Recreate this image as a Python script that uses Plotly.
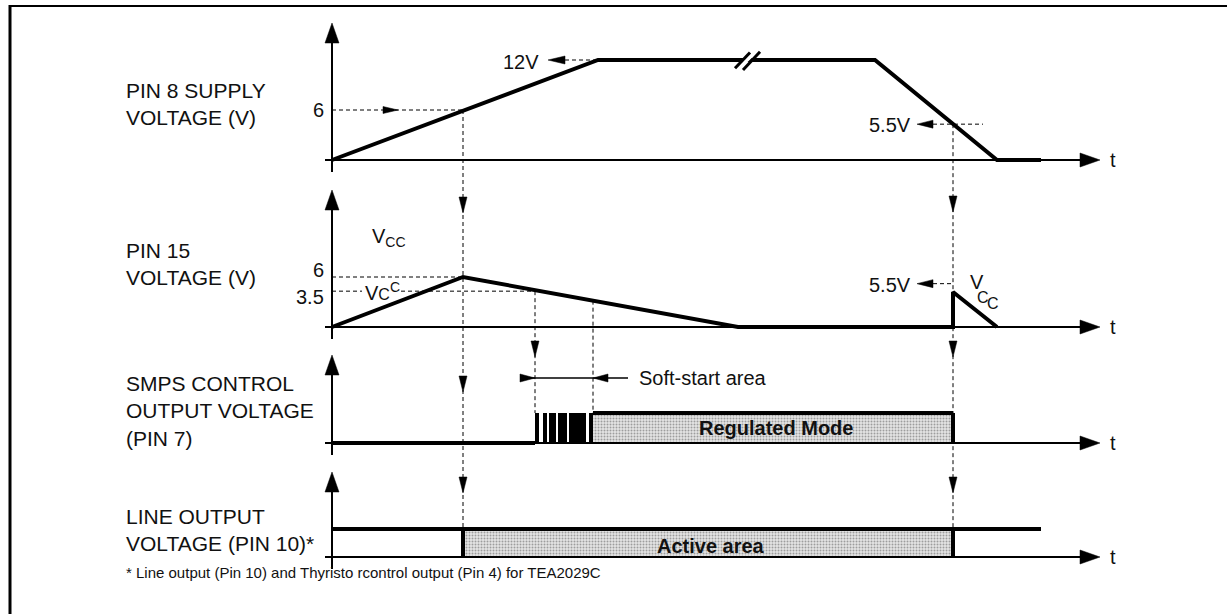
import plotly.graph_objects as go

W, H = 1227, 614
ORIGIN_PX = 332
FONT = "Liberation Sans, Arial, sans-serif"
INK = "#111111"

# ---- waveform data (time in diagram units from the vertical axes, levels as drawn) ----
# pin 8 supply voltage
supply_t = [0, 266, 543, 665, 709]
supply_v = [0, 12, 12, 0, 0]
# pin 15 voltage
pin15_t = [0, 131, 406, 621, 621, 665]
pin15_v = [0, 6, 0, 0, 4.2, 0]
# SMPS control output (pin 7)
smps_low_t = [0, 203]
pulse_start = [203, 210.7, 217.3, 226.3, 236.7, 256.7]
pulse_end = [207.3, 214.7, 223.7, 234.7, 253.7, 261]
regulated_t = [261, 621]
# line output (pin 10)
line_high_t = [0, 709]
active_t = [131, 621]

# events / reference levels
t_on = 131          # pin 8 reaches 6 V, pin 15 peaks
t_soft = [203, 261]  # soft-start window
t_off = 621         # pin 8 falls to 5.5 V
t_axis_end = 768
supply_on_v = 6
supply_max_v = 12
supply_off_v = 4.3
pin15_peak_v = 6
pin15_thr_v = 4.3
pin15_restart_v = 5.2

# panel axes: baseline pixel row and pixels per unit
PANELS = {"y": (160, 8.333), "y2": (327, 8.333), "y3": (443, 30), "y4": (557, 28)}


def u(ax, px):
    base, s = PANELS[ax]
    return (base - px) / s


fig = go.Figure()


def seg(t, v, ax, w=4, dash=None, color="black"):
    fig.add_trace(go.Scatter(x=t, y=v, xaxis="x", yaxis=ax, mode="lines",
                             line=dict(color=color, width=w, dash=dash),
                             hoverinfo="skip", showlegend=False))


def head(tip_t, tip_v, ax, direction, length=15, width=8):
    s = PANELS[ax][1]
    hw = width / 2
    if direction == "right":
        xs = [tip_t, tip_t - length, tip_t - length, tip_t]
        ys = [tip_v, tip_v + hw / s, tip_v - hw / s, tip_v]
    elif direction == "left":
        xs = [tip_t, tip_t + length, tip_t + length, tip_t]
        ys = [tip_v, tip_v + hw / s, tip_v - hw / s, tip_v]
    elif direction == "up":
        xs = [tip_t, tip_t - hw, tip_t + hw, tip_t]
        ys = [tip_v, tip_v - length / s, tip_v - length / s, tip_v]
    else:
        xs = [tip_t, tip_t - hw, tip_t + hw, tip_t]
        ys = [tip_v, tip_v + length / s, tip_v + length / s, tip_v]
    fig.add_trace(go.Scatter(x=xs, y=ys, xaxis="x", yaxis=ax, mode="lines", fill="toself",
                             fillcolor="black", line=dict(color="black", width=0.5),
                             hoverinfo="skip", showlegend=False))


def stipple(t0, t1, ax):
    fig.add_trace(go.Scatter(x=[t0, t1, t1, t0, t0], y=[0, 0, 1, 1, 0], xaxis="x", yaxis=ax,
                             mode="lines", fill="toself", fillcolor="#d8d8d8",
                             fillpattern=dict(shape=".", fgcolor="#555555", bgcolor="#e4e4e4",
                                              size=3, solidity=0.35),
                             line=dict(width=0), hoverinfo="skip", showlegend=False))


# page border (left and top edges)
seg([-ORIGIN_PX + 10] * 2, [u("y", 5), u("y", H)], "y", w=3)
seg([-ORIGIN_PX + 9, W - ORIGIN_PX], [u("y", 6)] * 2, "y", w=2)

# fills first so lines sit on top
stipple(regulated_t[0], regulated_t[1], "y3")
stipple(active_t[0], active_t[1], "y4")

# axes with arrows
axis_tip_px = {"y": 23, "y2": 190, "y3": 355, "y4": 472}
for ax, tip_px in axis_tip_px.items():
    base, s = PANELS[ax]
    seg([-7, t_axis_end - 12], [0, 0], ax, w=2)
    head(t_axis_end, 0, ax, "right", 20, 14)
    seg([0, 0], [u(ax, base + 12), u(ax, tip_px + 12)], ax, w=2)
    head(0, u(ax, tip_px), ax, "up", 20, 14)

# dashed guides - panel 1
dash = "4px,3px"
seg([0, t_on], [supply_on_v] * 2, "y", w=1, dash=dash)
head(66, supply_on_v, "y", "right", 15, 7)
seg([233, 266], [supply_max_v] * 2, "y", w=1, dash=dash)
head(216, supply_max_v, "y", "left", 17, 8)
seg([601, 651], [supply_off_v] * 2, "y", w=1, dash=dash)
head(585, supply_off_v, "y", "left", 16, 8)
seg([t_on, t_on], [supply_on_v, u("y", 529)], "y", w=1, dash=dash)
seg([t_off, t_off], [supply_off_v, u("y", 529)], "y", w=1, dash=dash)

# dashed guides - panel 2 (threshold line broken where its label sits)
seg([0, t_on], [pin15_peak_v] * 2, "y2", w=1, dash=dash)
seg([0, 30], [pin15_thr_v] * 2, "y2", w=1, dash=dash)
seg([69, t_soft[0]], [pin15_thr_v] * 2, "y2", w=1, dash=dash)
seg([t_soft[0]] * 2, [pin15_thr_v, u("y2", 413)], "y2", w=1, dash=dash)
seg([t_soft[1]] * 2, [3.16, u("y2", 413)], "y2", w=1, dash=dash)
seg([601, t_off], [pin15_restart_v] * 2, "y2", w=1, dash=dash)
head(585, pin15_restart_v, "y2", "left", 16, 8)

# guide arrowheads pointing down
for t, ax, px in [(t_on, "y2", 213), (t_on, "y3", 392), (t_on, "y4", 493),
                  (t_off, "y2", 212), (t_off, "y3", 357), (t_off, "y4", 493),
                  (t_soft[0], "y3", 357)]:
    head(t, u(ax, px), ax, "down", 16, 8)

# soft-start marker
ss_v = u("y3", 378)
seg([188, 296], [ss_v, ss_v], "y3", w=1.5)
head(t_soft[0], ss_v, "y3", "right", 15, 8)
head(t_soft[1], ss_v, "y3", "left", 15, 8)

# waveforms
seg(supply_t, supply_v, "y", w=4)
seg(pin15_t, pin15_v, "y2", w=4)
seg(smps_low_t, [0, 0], "y3", w=4)
fig.add_trace(go.Bar(x=[(a + b) / 2 for a, b in zip(pulse_start, pulse_end)],
                     y=[1] * len(pulse_start), base=0,
                     width=[b - a for a, b in zip(pulse_start, pulse_end)],
                     xaxis="x", yaxis="y3", marker=dict(color="black", line=dict(width=0)),
                     hoverinfo="skip", showlegend=False))
seg(regulated_t, [1, 1], "y3", w=4)
seg([regulated_t[1]] * 2, [0, 1], "y3", w=4)
seg(line_high_t, [1, 1], "y4", w=4)
seg([active_t[0]] * 2, [0, 1], "y4", w=4)
seg([active_t[1]] * 2, [0, 1], "y4", w=4)

# break mark on the plateau
seg([407, 422], [11.2, 12.9], "y", w=5, color="white")
seg([403, 418], [11.0, 12.9], "y", w=3)
seg([411, 428], [10.8, 13.0], "y", w=3)

# ---- text ----
ann = []


def txt(text, x, y, ax="y", xanchor="center", size=20, bold=False, xref="x"):
    ann.append(dict(text=f"<b>{text}</b>" if bold else text, x=x, y=y, xref=xref,
                    yref=ax, xanchor=xanchor, yanchor="middle", showarrow=False,
                    font=dict(family=FONT, size=size, color=INK), align="left"))


for ax in PANELS:
    txt("t", 781, 0, ax)

txt("6", -6, supply_on_v, "y", xanchor="right")
txt("12V", 189, u("y", 62))
txt("5.5V", 581, u("y", 125), "y", xanchor="right")

txt("V<sub>CC</sub>", 38, u("y2", 237), "y2", xanchor="left")
txt("6", -6, u("y2", 270), "y2", xanchor="right")
txt("3.5", -6, u("y2", 297), "y2", xanchor="right")
txt("V<span style='font-size:16px'>C</span><sup>C</sup>", 31, u("y2", 291), "y2",
    xanchor="left")
txt("5.5V", 581, u("y2", 285), "y2", xanchor="right")
txt("V", 645, u("y2", 282), "y2", xanchor="center")
txt("C", 651, u("y2", 297), "y2", xanchor="center", size=16)
txt("C", 661, u("y2", 303), "y2", xanchor="center", size=16)

txt("Soft-start area", 305, ss_v, "y3", xanchor="left")
txt("Regulated Mode", 444, 0.5, "y3", bold=True)
txt("Active area", 379, u("y4", 546), "y4", bold=True)

left_labels = [("PIN 8 SUPPLY<br>VOLTAGE (V)", 104), ("PIN 15<br>VOLTAGE (V)", 264),
               ("SMPS CONTROL<br>OUTPUT VOLTAGE<br>(PIN 7)", 411),
               ("LINE OUTPUT<br>VOLTAGE (PIN 10)*", 530)]
for label, ypx in left_labels:
    txt(label, 124 / W, 1 - ypx / H, "paper", xanchor="left", size=21, xref="paper")
txt("* Line output (Pin 10) and Thyristo rcontrol output (Pin 4) for TEA2029C",
    124 / W, 1 - 572 / H, "paper", xanchor="left", size=15, xref="paper")

layout_axes = {}
for ax, (base, s) in PANELS.items():
    key = "yaxis" if ax == "y" else "yaxis" + ax[1:]
    cfg = dict(range=[(base - H) / s, base / s], visible=False, fixedrange=True, domain=[0, 1])
    if ax != "y":
        cfg["overlaying"] = "y"
    layout_axes[key] = cfg

fig.update_layout(
    width=W, height=H,
    margin=dict(l=0, r=0, t=0, b=0),
    paper_bgcolor="white", plot_bgcolor="white",
    xaxis=dict(range=[-ORIGIN_PX, W - ORIGIN_PX], visible=False, fixedrange=True),
    annotations=ann, bargap=0,
    **layout_axes,
)

page_css = ("html,body{margin:0;padding:0;overflow:hidden;scrollbar-width:none;}"
            "::-webkit-scrollbar{display:none;}")
fig.write_html("out.html", config={"displayModeBar": False},
               post_script="var s=document.createElement('style');"
                           f"s.textContent='{page_css}';document.head.appendChild(s);")
